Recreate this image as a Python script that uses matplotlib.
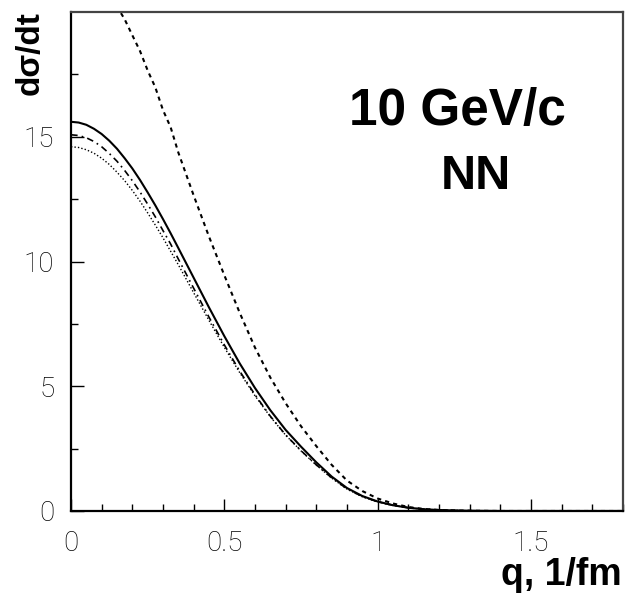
import matplotlib.pyplot as plt
import numpy as np

# q in 1/fm
q = [0.000, 0.025, 0.050, 0.075, 0.100, 0.125, 0.150, 0.175, 0.200, 0.225,
     0.250, 0.275, 0.300, 0.325, 0.350, 0.40, 0.45,
     0.50, 0.55, 0.60, 0.65, 0.70, 0.75, 0.80, 0.85, 0.90, 0.95,
     1.00, 1.05, 1.10, 1.15, 1.20, 1.25, 1.30, 1.40, 1.50, 1.60, 1.70, 1.80]

# d sigma / dt
solid = [15.60, 15.57, 15.48, 15.32, 15.11, 14.84, 14.52, 14.14, 13.73, 13.27,
         12.77, 12.25, 11.70, 11.13, 10.54, 9.35, 8.16,
         7.01, 5.92, 4.93, 4.04, 3.25, 2.58, 1.95, 1.38, 0.92, 0.60,
         0.38, 0.23, 0.13, 0.07, 0.04, 0.02, 0.01, 0.0, 0.0, 0.0, 0.0, 0.0]
dashdot = [15.08, 15.05, 14.96, 14.81, 14.60, 14.33, 14.02, 13.65, 13.24, 12.79,
           12.30, 11.79, 11.24, 10.70, 10.10, 8.93, 7.77,
           6.66, 5.61, 4.66, 3.80, 3.05, 2.42, 1.85, 1.33, 0.89, 0.58,
           0.37, 0.23, 0.13, 0.07, 0.04, 0.02, 0.01, 0.0, 0.0, 0.0, 0.0, 0.0]
dotted = [14.60, 14.57, 14.48, 14.34, 14.14, 13.89, 13.58, 13.24, 12.85, 12.42,
          11.95, 11.46, 10.95, 10.41, 9.87, 8.75, 7.64,
          6.56, 5.55, 4.62, 3.78, 3.04, 2.41, 1.84, 1.32, 0.88, 0.57,
          0.36, 0.22, 0.13, 0.07, 0.04, 0.02, 0.01, 0.0, 0.0, 0.0, 0.0, 0.0]
dashed = [21.80, 21.78, 21.62, 21.40, 21.09, 20.70, 20.22, 19.71, 19.07, 18.44,
          17.66, 16.98, 16.07, 15.38, 14.37, 12.65, 11.00,
          9.45, 7.95, 6.55, 5.35, 4.32, 3.40, 2.60, 1.85, 1.22, 0.80,
          0.50, 0.30, 0.16, 0.08, 0.04, 0.02, 0.01, 0.0, 0.0, 0.0, 0.0, 0.0]

fig = plt.figure(figsize=(6.27, 5.95), dpi=100)
ax = fig.add_axes([0.1132, 0.1412, 0.8804, 0.8386])

ax.plot(q, solid, color='black', lw=1.5, solid_capstyle='butt')
ax.plot(q, dashdot, color='black', lw=1.2, dashes=(4, 2.5, 1, 2.5))
ax.plot(q, dotted, color='black', lw=1.0, dashes=(1, 1.5))
ax.plot(q, dashed, color='black', lw=1.5, dashes=(2, 2))

ax.set_xlim(0, 1.8)
ax.set_ylim(0, 20)

ax.set_xticks([0, 0.5, 1, 1.5])
ax.set_xticklabels(['0', '0.5', '1', '1.5'])
ax.set_xticks(np.arange(0, 1.81, 0.1), minor=True)
ax.set_yticks([0, 5, 10, 15])
ax.set_yticklabels(['0', '5', '10', '15'])
ax.set_yticks([2.5, 7.5, 12.5, 17.5], minor=True)

ax.tick_params(which='both', direction='in', top=False, right=False,
               color='black', width=1.0)
ax.tick_params(which='major', length=9, pad=14, labelsize=20)
ax.tick_params(which='minor', length=5)
for lab in ax.get_xticklabels() + ax.get_yticklabels():
    lab.set_family('Roboto')
    lab.set_fontweight('light')
ax.tick_params(axis='y', pad=12)

for s in ax.spines.values():
    s.set_linewidth(1.6)
    s.set_color('#444444')
ax.spines['left'].set_color('black')
ax.spines['bottom'].set_color('black')

bold = dict(family='Liberation Sans', fontweight='bold')
fig.text(0.992, 0.004, 'q, 1/fm', ha='right', va='bottom', fontsize=27, **bold)
fig.text(0.048, 0.982, 'd\u03c3/dt', ha='center', va='top', rotation=90,
         fontsize=24, **bold)
ax.text(0.700, 0.800, '10 GeV/c', transform=ax.transAxes, ha='center',
        va='center', fontsize=37, **bold)
ax.text(0.734, 0.671, 'NN', transform=ax.transAxes, ha='center',
        va='center', fontsize=35, **bold)

fig.savefig('out.png', dpi=100)
